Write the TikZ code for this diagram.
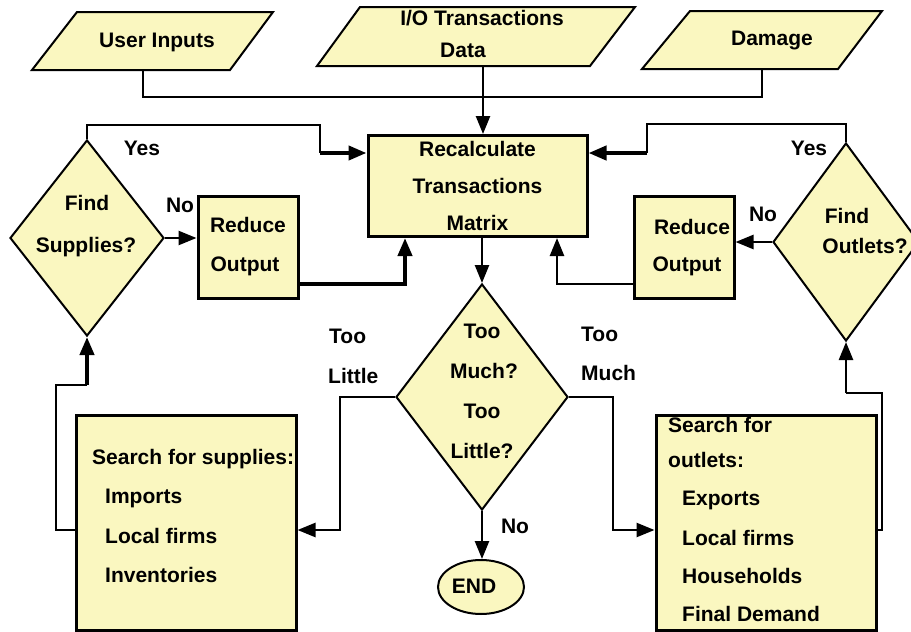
\documentclass[tikz,border=0pt]{standalone}
\usepackage{fontspec}
\setmainfont{Liberation Sans}
\usetikzlibrary{shapes.geometric,arrows.meta}
\definecolor{fillc}{RGB}{250,247,192}
\begin{document}
\begin{tikzpicture}[x=1pt,y=-1pt,
  lbl/.style={font=\fontsize{21}{24}\selectfont\bfseries, inner sep=0pt, text height=15pt, text depth=4pt},
  shp/.style={draw, fill=fillc, line width=2pt},
  box/.style={draw, fill=fillc, line width=3pt, inner sep=0pt},
  dia/.style={diamond, shp, inner sep=0pt},
  conn/.style={line width=2.5pt},
  thk/.style={line width=4pt},
  arr/.style={-{Triangle[length=18pt,width=14pt]}},
]
\useasboundingbox (0,0) rectangle (911,632);
\clip (0,0) rectangle (911,632);
\fill[white] (0,0) rectangle (911,632);

% input parallelograms
\draw[shp] (77,12) -- (273,12) -- (230,70) -- (32,70) -- cycle;
\node[lbl] (user) at (157,42) {User Inputs};
\draw[shp] (360,7) -- (635,7) -- (590,66) -- (317,66) -- cycle;
\node[lbl] (io) at (482,20) {I/O Transactions};
\node[lbl] (iodata) at (463,52) {Data};
\draw[shp] (690,11) -- (882,11) -- (838,69) -- (642,69) -- cycle;
\node[lbl] (dmg) at (772,40) {Damage};
\coordinate (user-b) at (143,70);
\coordinate (io-b) at (483,66);
\coordinate (dmg-b) at (762,69);
\coordinate (join) at (483,97);

% central box
\node[box, minimum width=219pt, minimum height=101pt, align=center, lbl,
      font=\fontsize{21}{37}\selectfont\bfseries, text height=, text depth=] (recalc) at (477.5,186)
  {Recalculate\\Transactions\\Matrix};

% left side
\node[dia, minimum width=154pt, minimum height=196pt] (fs) at (87,238) {};
\node[lbl] (fs1) at (87,205) {Find};
\node[lbl] (fs2) at (86,247) {Supplies?};
\node[box, minimum width=100pt, minimum height=102pt] (redL) at (248,247) {};
\node[lbl] (redL1) at (248,227) {Reduce};
\node[lbl] (redL2) at (245,266) {Output};
\node[lbl] (yesL) at (142,150) {Yes};
\node[lbl] (noL) at (180,207) {No};

% right side
\node[dia, minimum width=146pt, minimum height=198pt] (fo) at (846,242) {};
\node[lbl] (fo1) at (847,218) {Find};
\node[lbl] (fo2) at (865,248) {Outlets?};
\node[box, minimum width=100pt, minimum height=102pt] (redR) at (684,247) {};
\node[lbl] (redR1) at (692,229) {Reduce};
\node[lbl] (redR2) at (687,266) {Output};
\node[lbl] (yesR) at (809,150) {Yes};
\node[lbl] (noR) at (763,216) {No};

% decision
\node[dia, minimum width=172pt, minimum height=226pt] (tm) at (482,397) {};
\node[lbl] (tm1) at (482,333) {Too};
\node[lbl] (tm2) at (484,373) {Much?};
\node[lbl] (tm3) at (482,413) {Too};
\node[lbl] (tm4) at (482,453) {Little?};
\node[lbl, anchor=west] (tl1) at (329,338) {Too};
\node[lbl, anchor=west] (tl2) at (328,378) {Little};
\node[lbl, anchor=west] (tmu1) at (581,336) {Too};
\node[lbl, anchor=west] (tmu2) at (581,375) {Much};
\node[lbl] (noB) at (515,528) {No};

% end
\node[ellipse, shp, minimum width=86pt, minimum height=54pt, inner sep=0pt] (endn) at (481,587) {};
\node[lbl] (endt) at (474,588) {END};

% search boxes
\node[box, minimum width=220pt, minimum height=215pt] (ssL) at (186,522.5) {};
\node[lbl, anchor=west] (sl1) at (92,459) {Search for supplies:};
\node[lbl, anchor=west] (sl2) at (105,498) {Imports};
\node[lbl, anchor=west] (sl3) at (105,538) {Local firms};
\node[lbl, anchor=west] (sl4) at (105,577) {Inventories};

\node[box, minimum width=220pt, minimum height=215pt] (ssR) at (766,522.5) {};
\node[lbl, anchor=west] (sr1) at (668,427) {Search for};
\node[lbl, anchor=west] (sr2) at (668,462) {outlets:};
\node[lbl, anchor=west] (sr3) at (682,500) {Exports};
\node[lbl, anchor=west] (sr4) at (682,540) {Local firms};
\node[lbl, anchor=west] (sr5) at (682,578) {Households};
\node[lbl, anchor=west] (sr6) at (682,616) {Final Demand};

% connectors: inputs
\draw[conn] (user-b) |- (join);
\draw[conn] (dmg-b) |- (join);
\draw[conn, arr] (io-b) -- (io-b |- recalc.north);

% left loop
\draw[conn] (fs.north) -- (87,125) -- (320,125) -- (320,153);
\draw[thk, arr] (320,153) -- (recalc.west |- 0,153);
\draw[conn, arr] (fs.east) -- (fs.east -| redL.west);
\draw[thk, arr] (redL.east |- 0,284) -| ([xshift=-72.5pt]recalc.south);

% right loop
\draw[conn] (fo.north) -- (846,124) -- (647,124) -- (647,153);
\draw[thk, arr] (647,153) -- (recalc.east |- 0,153);
\draw[conn, arr] (fo.west) -- (fo.west -| redR.east);
\draw[conn, arr] (redR.west |- 0,284) -| ([xshift=79.5pt]recalc.south);

% decision flow
\draw[conn, arr] (tm.north |- recalc.south) -- (tm.north);
\draw[conn, arr] (tm.west) -- (340,397) -- (340,530) -- (ssL.east |- 0,530);
\draw[conn, arr] (tm.east) -- (613,397) -- (613,530) -- (ssR.west |- 0,530);
\draw[conn, arr] (tm.south) -- (endn.north -| tm.south);

% search back to diamonds
\draw[conn] (ssL.west |- 0,530) -- (56,530) -- (56,385) -- (87,385);
\draw[thk, arr] (87,385) -- (fs.south);
\draw[conn] (ssR.east |- 0,530) -- (882,530) -- (882,393) -- (846,393);
\draw[conn, arr] (846,393) -- (fo.south);
\end{tikzpicture}
\end{document}
